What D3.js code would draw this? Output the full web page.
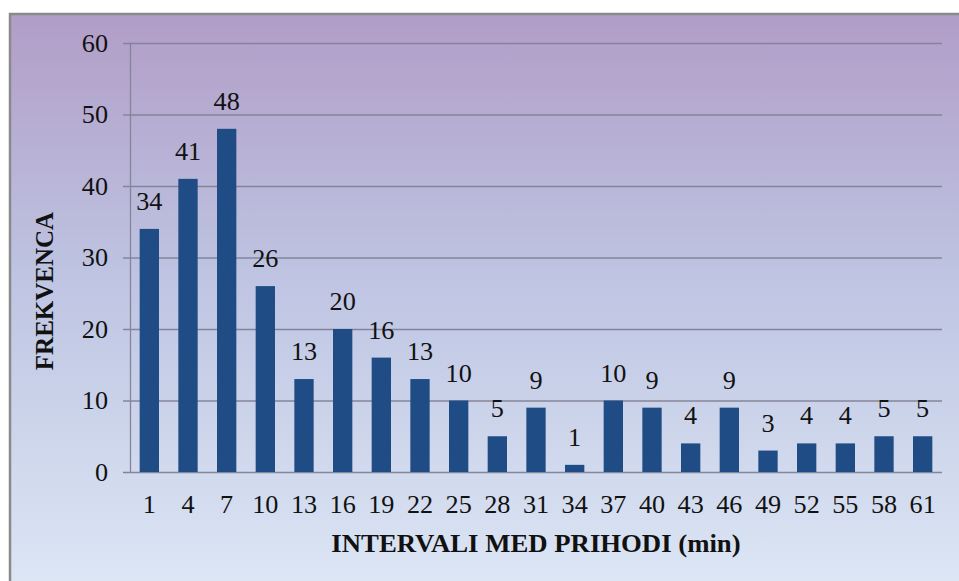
<!DOCTYPE html>
<html>
<head>
<meta charset="utf-8">
<script src="https://cdn.jsdelivr.net/npm/d3@7"></script>
<style>
  body { margin: 0; background: #fff; }
  text { font-family: 'Liberation Serif'; fill: #111; }
</style>
</head>
<body>
<div id="chart"></div>
<script>
// data
var intervals = [1, 4, 7, 10, 13, 16, 19, 22, 25, 28, 31, 34, 37, 40, 43, 46, 49, 52, 55, 58, 61];
var frequencies = [34, 41, 48, 26, 13, 20, 16, 13, 10, 5, 9, 1, 10, 9, 4, 9, 3, 4, 4, 5, 5];
var yTicks = [0, 10, 20, 30, 40, 50, 60];

var W = 959, H = 581;
var margin = {top: 43, right: 17, bottom: 109, left: 130};
var width = W - margin.left - margin.right;
var height = H - margin.top - margin.bottom;
var stretch = 1.07;   // the source picture is a bit wider than tall

var svg = d3.select("#chart").append("svg")
    .attr("width", W)
    .attr("height", H);

// background gradient like the office chart area
var defs = svg.append("defs");
var grad = defs.append("linearGradient")
    .attr("id", "bg")
    .attr("x1", 0).attr("y1", 0).attr("x2", 0).attr("y2", 1);
grad.append("stop").attr("offset", "0%").attr("stop-color", "#b19dc7");
grad.append("stop").attr("offset", "45%").attr("stop-color", "#bec4e2");
grad.append("stop").attr("offset", "100%").attr("stop-color", "#dde7f5");

svg.append("rect")
    .attr("x", 10).attr("y", 14)
    .attr("width", W).attr("height", H)
    .attr("fill", "url(#bg)")
    .attr("stroke", "#8a8a8a")
    .attr("stroke-width", 2.5);

var g = svg.append("g")
    .attr("transform", "translate(" + margin.left + "," + margin.top + ")");

var x = d3.scaleBand()
    .domain(intervals)
    .range([0, width])
    .paddingInner(0.5)
    .paddingOuter(0.25);

var y = d3.scaleLinear()
    .domain([0, 60])
    .range([height, 0]);

function place(px, py) {
    return "translate(" + px + "," + py + ") scale(" + stretch + ",1)";
}

// gridlines
g.append("g")
    .selectAll("line")
    .data(yTicks)
    .enter().append("line")
    .attr("x1", -7)
    .attr("x2", width)
    .attr("y1", function(d) { return y(d) + 0.5; })
    .attr("y2", function(d) { return y(d) + 0.5; })
    .attr("stroke", "#85859a")
    .attr("stroke-width", 1.3);

// left axis line
g.append("line")
    .attr("x1", 0.5).attr("x2", 0.5)
    .attr("y1", 0).attr("y2", height)
    .attr("stroke", "#85859a")
    .attr("stroke-width", 1.3);

// y tick labels
g.append("g")
    .selectAll("text")
    .data(yTicks)
    .enter().append("text")
    .attr("transform", function(d) { return place(-22, y(d)); })
    .attr("dy", "0.35em")
    .attr("text-anchor", "end")
    .attr("font-size", 24.5)
    .text(function(d) { return d; });

// bars
g.selectAll(".bar")
    .data(frequencies)
    .enter().append("rect")
    .attr("class", "bar")
    .attr("x", function(d, i) { return x(intervals[i]); })
    .attr("y", function(d) { return y(d); })
    .attr("width", x.bandwidth())
    .attr("height", function(d) { return height - y(d); })
    .attr("fill", "#1f4c84");

// value labels
g.selectAll(".val")
    .data(frequencies)
    .enter().append("text")
    .attr("class", "val")
    .attr("transform", function(d, i) {
        return place(x(intervals[i]) + x.bandwidth() / 2, y(d) - 19);
    })
    .attr("text-anchor", "middle")
    .attr("font-size", 24.5)
    .text(function(d) { return d; });

// x tick labels
g.selectAll(".xl")
    .data(intervals)
    .enter().append("text")
    .attr("class", "xl")
    .attr("transform", function(d) { return place(x(d) + x.bandwidth() / 2, height + 41); })
    .attr("text-anchor", "middle")
    .attr("font-size", 24.5)
    .text(function(d) { return d; });

// axis titles
svg.append("text")
    .attr("transform", place(536, 552))
    .attr("text-anchor", "middle")
    .attr("font-size", 25)
    .attr("font-weight", "bold")
    .text("INTERVALI MED PRIHODI (min)");

svg.append("text")
    .attr("transform", "translate(53,291) rotate(-90)")
    .attr("text-anchor", "middle")
    .attr("font-size", 25)
    .attr("font-weight", "bold")
    .text("FREKVENCA");
</script>
</body>
</html>
